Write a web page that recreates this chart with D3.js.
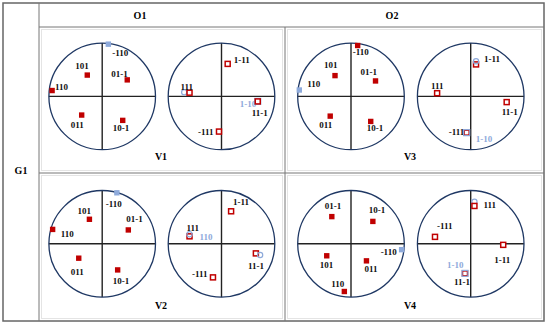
<!DOCTYPE html>
<html>
<head>
<meta charset="utf-8">
<script src="https://cdn.jsdelivr.net/npm/d3@7"></script>
<style>
  body { margin: 0; background: #fff; }
  text { font-family: "Liberation Serif", "Times New Roman", serif; font-weight: bold; }
</style>
</head>
<body>
<script>
// group / orientation / variant names
var groups = ["G1"];
var orientations = ["O1", "O2"];
var variants = ["V1", "V2", "V3", "V4"];

// projected positions on unit circle: [label, x, y, kind]
// kind: F red filled square, B blue filled square, H red open square,
//       C blue open circle, S blue open square
var v1Left = [
    ["-110", 0.115, 0.98, "B"],
    ["101", -0.28, 0.40, "F"],
    ["01-1", 0.47, 0.31, "F"],
    ["110", -0.94, 0.11, "F"],
    ["011", -0.385, -0.35, "F"],
    ["10-1", 0.385, -0.45, "F"]
];
var v1Right = [
    ["1-11", 0.116, 0.61, "H"],
    ["", -0.70, 0.08, "C"],
    ["111", -0.60, 0.07, "H"],
    ["1-10", 0.68, -0.094, "S"],
    ["11-1", 0.68, -0.094, "H"],
    ["-111", -0.047, -0.66, "H"]
];
var v2Left = [
    ["-110", 0.275, 0.957, "B"],
    ["101", -0.24, 0.46, "F"],
    ["01-1", 0.49, 0.26, "F"],
    ["110", -0.93, 0.27, "F"],
    ["011", -0.44, -0.27, "F"],
    ["10-1", 0.29, -0.49, "F"]
];
var v2Right = [
    ["1-11", 0.18, 0.61, "H"],
    ["111", -0.60, 0.14, "H"],
    ["110", -0.60, 0.18, "C"],
    ["11-1", 0.645, -0.18, "H"],
    ["", 0.725, -0.21, "C"],
    ["-111", -0.16, -0.63, "H"]
];
var v3Left = [
    ["-110", 0.125, 0.955, "F"],
    ["101", -0.30, 0.39, "F"],
    ["01-1", 0.46, 0.29, "F"],
    ["110", -0.97, 0.12, "B"],
    ["011", -0.39, -0.37, "F"],
    ["10-1", 0.37, -0.47, "F"]
];
var v3Right = [
    ["1-11", 0.10, 0.60, "H"],
    ["", 0.10, 0.66, "C"],
    ["111", -0.63, 0.06, "H"],
    ["11-1", 0.675, -0.107, "H"],
    ["-111", -0.075, -0.68, "H"],
    ["1-10", -0.075, -0.68, "S"]
];
var v4Left = [
    ["01-1", -0.36, 0.51, "F"],
    ["10-1", 0.41, 0.42, "F"],
    ["-110", 0.95, -0.11, "B"],
    ["101", -0.455, -0.225, "F"],
    ["011", 0.29, -0.32, "F"],
    ["110", -0.125, -0.895, "F"]
];
var v4Right = [
    ["", 0.07, 0.79, "C"],
    ["111", 0.07, 0.71, "H"],
    ["-111", -0.67, 0.13, "H"],
    ["1-11", 0.61, -0.02, "H"],
    ["11-1", -0.107, -0.555, "H"],
    ["1-10", -0.107, -0.555, "S"]
];

// label nudges in px (same order as the point arrays above)
var nudges = {
    v1Left: [[4, 12], [-12, -6], [-16, -3], [3, -1], [-11, 13], [-10, 11]],
    v1Right: [[6, -1], null, [-9, -3], [-18, 6], [-6, 15], [-21, 3]],
    v2Left: [[-11, 14], [-12, -5], [-2, -8], [8, 8], [-8, 17], [-5, 14]],
    v2Right: [[2, -6], [-3, -5], [10, 6], [-8, 16], null, [-21, 0]],
    v3Left: [[-5, 10], [-11, -8], [-15, -6], [8, -3], [-11, 12], [-4, 10]],
    v3Right: [[8, -2], null, [-6, -4], [-5, 13], [-18, 2], [9, 9]],
    v4Left: [[-7, -8], [-4, -8], [-21, 5], [-7, 12], [-2, 11], [-13, -5]],
    v4Right: [null, [9, 2], [2, -8], [-9, 18], [-11, 12], [-18, -5]]
};

var panels = [
    { name: "V1", left: v1Left, right: v1Right, keys: ["v1Left", "v1Right"], col: 0, row: 0 },
    { name: "V2", left: v2Left, right: v2Right, keys: ["v2Left", "v2Right"], col: 0, row: 1 },
    { name: "V3", left: v3Left, right: v3Right, keys: ["v3Left", "v3Right"], col: 1, row: 0 },
    { name: "V4", left: v4Left, right: v4Right, keys: ["v4Left", "v4Right"], col: 1, row: 1 }
];

var width = 550, height = 327;
var red = "#c00000", blue = "#8eaadb", navy = "#1f3864";

var svg = d3.select("body").append("svg")
    .attr("width", width)
    .attr("height", height);

// table grid
var tLeft = 3, tRight = 544, tTop = 3, tBottom = 321;
var colX = 39, midX = 285, headY = 27, rowY = 173;

// faint frame of each picture cell
var cells = [
    [colX, headY, midX, rowY], [midX, headY, tRight, rowY],
    [colX, rowY, midX, tBottom], [midX, rowY, tRight, tBottom]
];
svg.selectAll("rect.inner")
    .data(cells)
    .enter()
    .append("rect")
    .attr("x", function(d) { return d[0] + 2.5; })
    .attr("y", function(d) { return d[1] + 2.5; })
    .attr("width", function(d) { return d[2] - d[0] - 5; })
    .attr("height", function(d) { return d[3] - d[1] - 5; })
    .attr("fill", "none")
    .attr("stroke", "#e4e4e4")
    .attr("stroke-width", 1);

svg.append("rect")
    .attr("x", tLeft).attr("y", tTop)
    .attr("width", tRight - tLeft).attr("height", tBottom - tTop)
    .attr("fill", "none")
    .attr("stroke", "#666")
    .attr("stroke-width", 1.5);

var gridLines = [
    [colX, tTop, colX, tBottom],
    [colX, headY, tRight, headY],
    [midX, headY, midX, tBottom],
    [colX, rowY, tRight, rowY]
];
svg.selectAll("line.grid")
    .data(gridLines)
    .enter()
    .append("line")
    .attr("x1", function(d) { return d[0]; })
    .attr("y1", function(d) { return d[1]; })
    .attr("x2", function(d) { return d[2]; })
    .attr("y2", function(d) { return d[3]; })
    .attr("stroke", "#777")
    .attr("stroke-width", 1);

svg.append("text")
    .attr("x", 21).attr("y", 174)
    .attr("text-anchor", "middle")
    .style("font-size", "10px")
    .text(groups[0]);

var headX = [140, 392];
svg.selectAll("text.head")
    .data(orientations)
    .enter()
    .append("text")
    .attr("x", function(d, i) { return headX[i]; })
    .attr("y", 19)
    .attr("text-anchor", "middle")
    .style("font-size", "10px")
    .text(function(d) { return d; });

// circle centres
var R = 53.3;
var centreX = [[102.2, 221.5], [351, 470.7]];
var centreY = [96.4, 243.8];
var tagX = [161, 410], tagY = [160, 309];

panels.forEach(function(p) {
    [p.left, p.right].forEach(function(pts, side) {
        var cx = centreX[p.col][side], cy = centreY[p.row];
        var x = d3.scaleLinear().domain([-1, 1]).range([cx - R, cx + R]);
        var y = d3.scaleLinear().domain([-1, 1]).range([cy + R, cy - R]);
        var g = svg.append("g");

        g.append("line")
            .attr("x1", x(-1)).attr("x2", x(1))
            .attr("y1", y(0)).attr("y2", y(0))
            .attr("stroke", "#222").attr("stroke-width", 1.4);
        g.append("line")
            .attr("x1", x(0)).attr("x2", x(0))
            .attr("y1", y(-1)).attr("y2", y(1))
            .attr("stroke", "#222").attr("stroke-width", 1.4);
        g.append("circle")
            .attr("cx", x(0)).attr("cy", y(0))
            .attr("r", R)
            .attr("fill", "none")
            .attr("stroke", navy)
            .attr("stroke-width", 1.3);

        var nud = nudges[p.keys[side]];

        g.selectAll("g.pt")
            .data(pts)
            .enter()
            .append("g")
            .each(function(d, i) {
                var el = d3.select(this);
                var px = x(d[1]), py = y(d[2]);
                if (d[3] === "F" || d[3] === "B") {
                    el.append("rect")
                        .attr("x", px - 2.7).attr("y", py - 2.7)
                        .attr("width", 5.4).attr("height", 5.4)
                        .attr("fill", d[3] === "F" ? red : blue);
                } else if (d[3] === "H") {
                    el.append("rect")
                        .attr("x", px - 2.5).attr("y", py - 2.5)
                        .attr("width", 5).attr("height", 5)
                        .attr("fill", "#fff")
                        .attr("stroke", red)
                        .attr("stroke-width", 1.5);
                } else if (d[3] === "S") {
                    el.append("rect")
                        .attr("x", px - 3).attr("y", py - 3)
                        .attr("width", 6).attr("height", 6)
                        .attr("fill", "none")
                        .attr("stroke", blue)
                        .attr("stroke-width", 1.2);
                } else {
                    el.append("circle")
                        .attr("cx", px).attr("cy", py)
                        .attr("r", 2.6)
                        .attr("fill", "none")
                        .attr("stroke", blue)
                        .attr("stroke-width", 1.2);
                }
                if (d[0] && nud[i]) {
                    el.append("text")
                        .attr("x", px + nud[i][0])
                        .attr("y", py + nud[i][1])
                        .attr("fill", (d[3] === "S" || d[3] === "C") ? blue : "#111")
                        .style("font-size", "9px")
                        .text(d[0]);
                }
            });
    });

    svg.append("text")
        .attr("x", tagX[p.col]).attr("y", tagY[p.row])
        .attr("text-anchor", "middle")
        .style("font-size", "10px")
        .text(p.name);
});
</script>
</body>
</html>
